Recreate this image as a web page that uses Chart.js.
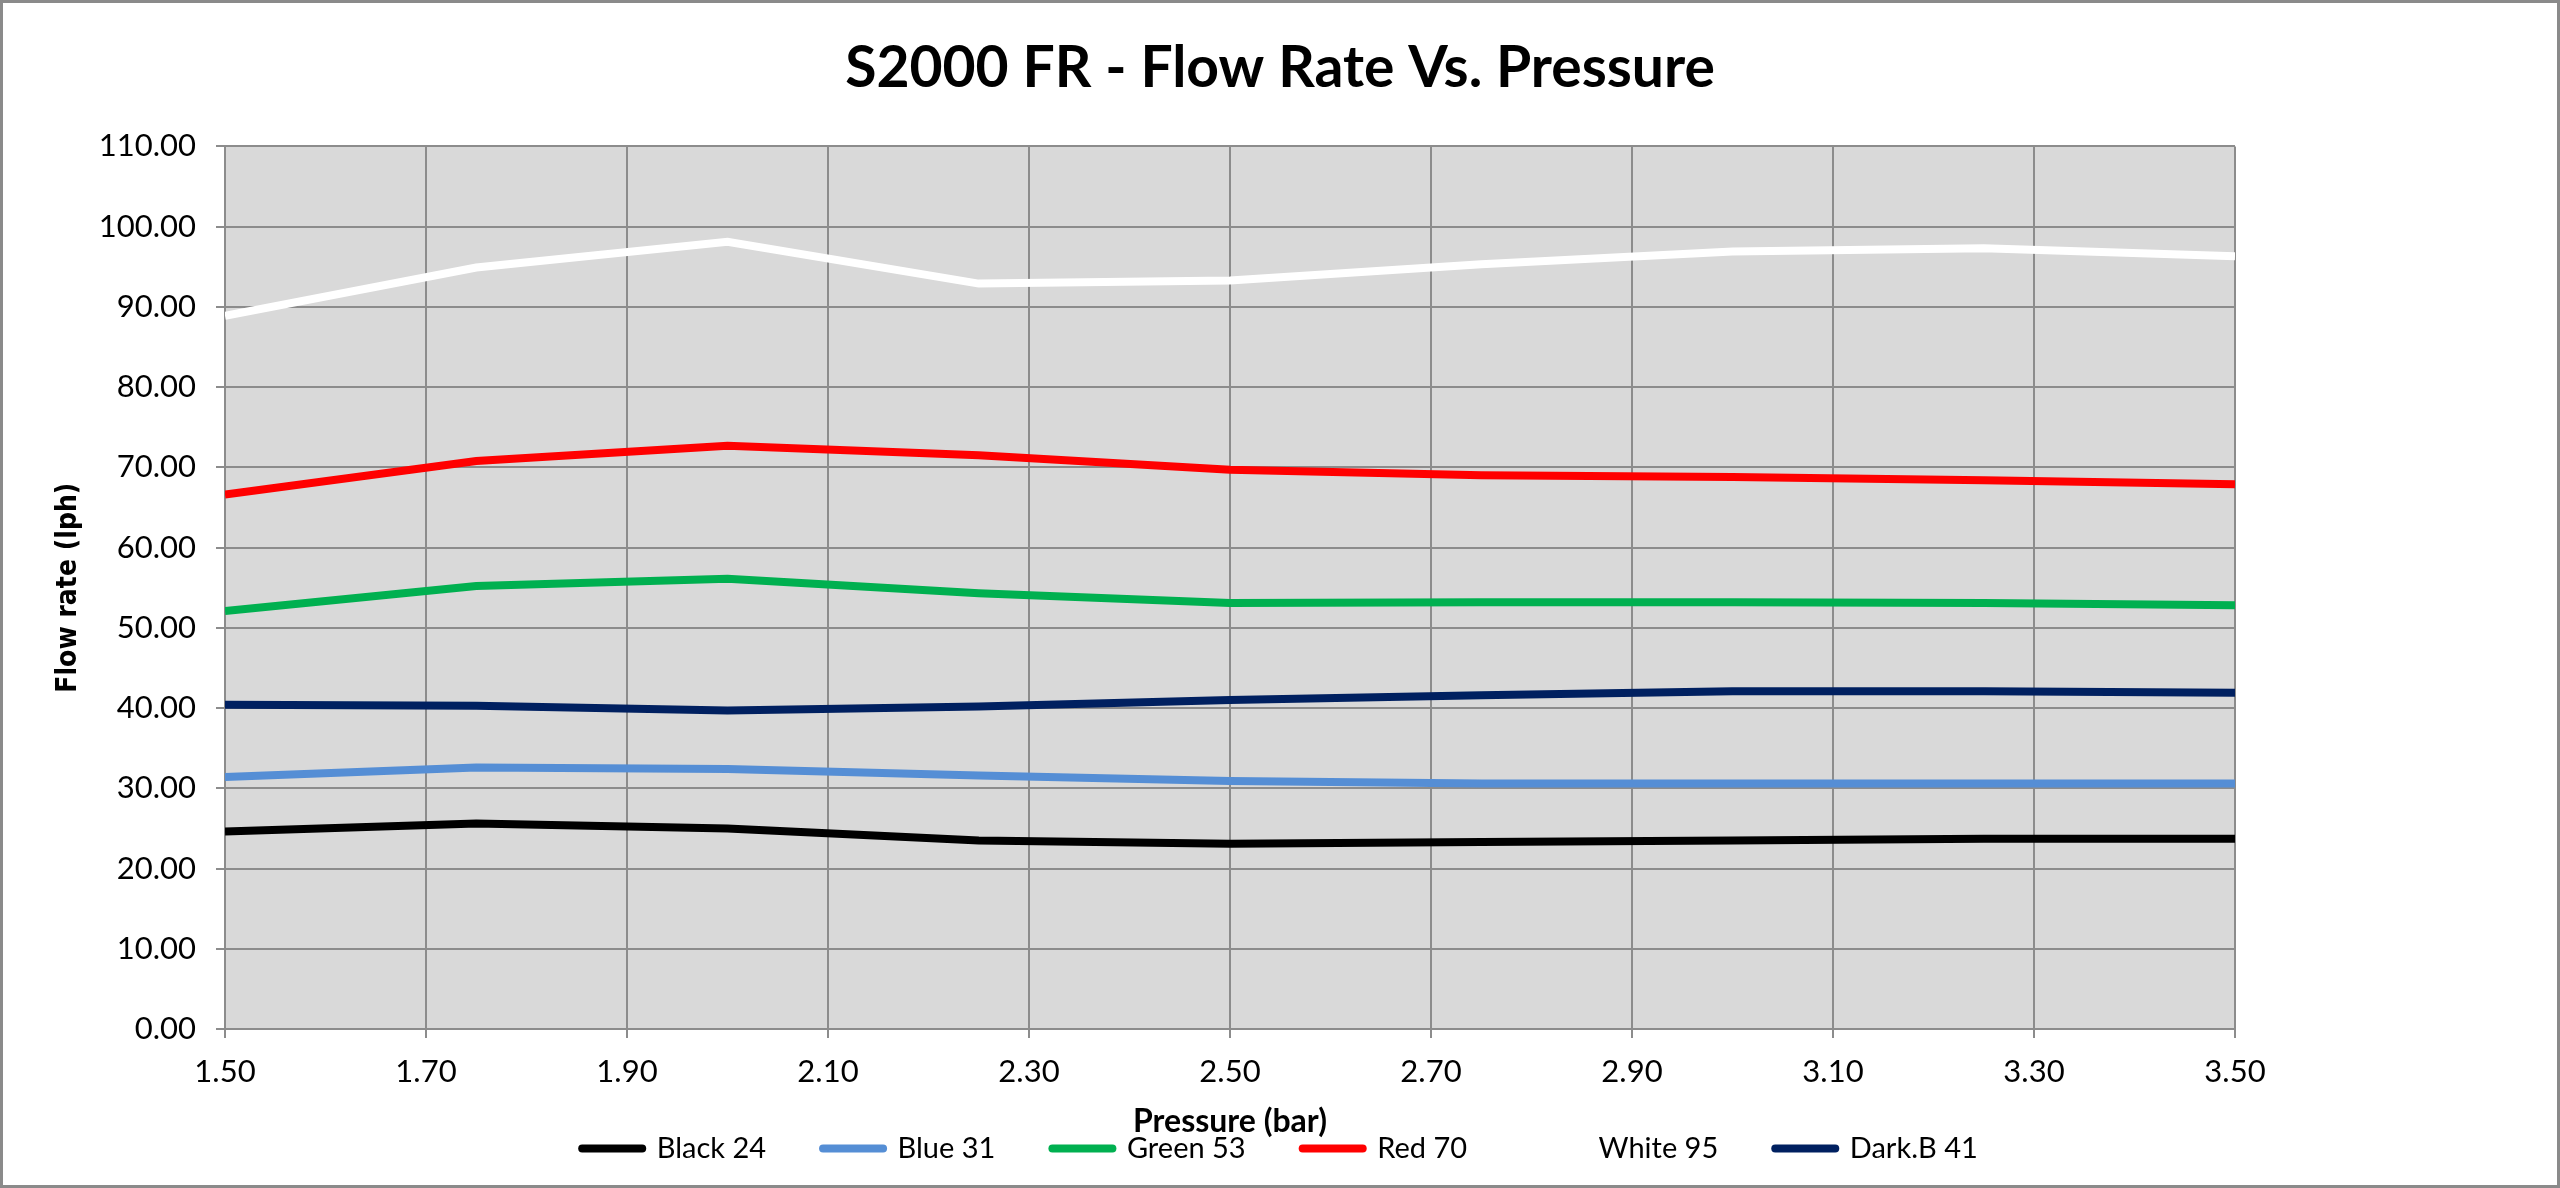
<!DOCTYPE html>
<html>
<head>
<meta charset="utf-8">
<title>S2000 FR - Flow Rate Vs. Pressure</title>
<script src="https://cdn.jsdelivr.net/npm/chart.js@4.4.1/dist/chart.umd.min.js"></script>
<style>
  html, body { margin: 0; padding: 0; background: #ffffff; }
  canvas { display: block; }
</style>
</head>
<body>
<canvas id="flow_chart" width="2560" height="1188"></canvas>
<script>
// pressure (bar) where each nozzle was measured
const pressures = [1.50, 1.75, 2.00, 2.25, 2.50, 2.75, 3.00, 3.25, 3.50];

// flow rate (lph) per nozzle
const black_24 = [24.6, 25.6, 25.0, 23.5, 23.1, 23.3, 23.5, 23.7, 23.7];
const blue_31 = [31.4, 32.6, 32.4, 31.6, 30.9, 30.6, 30.6, 30.6, 30.6];
const green_53 = [52.1, 55.2, 56.1, 54.3, 53.1, 53.2, 53.2, 53.1, 52.8];
const red_70 = [66.6, 70.8, 72.7, 71.5, 69.7, 69.0, 68.8, 68.4, 67.9];
const white_95 = [88.9, 94.9, 98.1, 92.9, 93.3, 95.3, 96.9, 97.3, 96.3];
const darkb_41 = [40.4, 40.3, 39.7, 40.2, 41.0, 41.6, 42.1, 42.1, 41.9];

const series_names = ['Black 24', 'Blue 31', 'Green 53', 'Red 70', 'White 95', 'Dark.B 41'];
const series_values = [black_24, blue_31, green_53, red_70, white_95, darkb_41];
const series_colors = ['#000000', '#558ed5', '#00b050', '#ff0000', '#ffffff', '#002060'];

const main_font = "Lato, 'Open Sans', sans-serif";
const grid_color = '#8c8c8c';

function to_points(values) {
    return values.map((v, i) => ({ x: pressures[i], y: v }));
}

const datasets = series_names.map((name, i) => ({
    label: name,
    data: to_points(series_values[i]),
    borderColor: series_colors[i],
    backgroundColor: series_colors[i],
    borderWidth: 8,
    tension: 0,
    pointRadius: 0,
    pointHoverRadius: 0,
    pointBorderWidth: 8,
    pointBorderColor: series_colors[i]
}));

// grey plot area like the spreadsheet chart
const plot_background = {
    id: 'plot_background',
    beforeDraw(chart) {
        const { ctx, chartArea } = chart;
        ctx.save();
        ctx.fillStyle = '#d9d9d9';
        ctx.fillRect(chartArea.left, chartArea.top, chartArea.width, chartArea.height);
        ctx.restore();
    }
};

// thin frame round the whole chart
const outer_frame = {
    id: 'outer_frame',
    afterDraw(chart) {
        const ctx = chart.ctx;
        ctx.save();
        ctx.strokeStyle = '#8a8a8a';
        ctx.lineWidth = 3;
        ctx.strokeRect(1.5, 1.5, chart.width - 3, chart.height - 3);
        ctx.restore();
    }
};

new Chart(document.getElementById('flow_chart'), {
    type: 'line',
    data: { datasets: datasets },
    plugins: [plot_background, outer_frame],
    options: {
        responsive: false,
        animation: false,
        events: [],
        layout: { padding: { top: 0, left: 0, right: 0, bottom: 15 } },
        plugins: {
            title: {
                display: true,
                text: 'S2000 FR - Flow Rate Vs. Pressure',
                color: '#000000',
                font: { family: main_font, size: 57, weight: 'bold', lineHeight: 1.2 },
                padding: { top: 34, bottom: 44 }
            },
            legend: {
                position: 'bottom',
                // empty title with negative padding pulls the legend row up under the axis title
                title: {
                    display: true,
                    text: '',
                    font: { size: 10, lineHeight: 1 },
                    padding: { top: 0, bottom: -24 }
                },
                labels: {
                    usePointStyle: true,
                    pointStyle: 'line',
                    pointStyleWidth: 60,
                    padding: 57,
                    color: '#000000',
                    font: { family: main_font, size: 29 },
                    generateLabels(chart) {
                        const items = Chart.defaults.plugins.legend.labels.generateLabels(chart);
                        return items.map(item => ({
                            ...item,
                            lineCap: 'round',
                            lineWidth: 8,
                            strokeStyle: series_colors[item.datasetIndex]
                        }));
                    }
                }
            },
            tooltip: { enabled: false }
        },
        scales: {
            x: {
                type: 'linear',
                min: 1.5,
                max: 3.5,
                ticks: {
                    stepSize: 0.2,
                    autoSkip: false,
                    maxRotation: 0,
                    padding: 15,
                    color: '#000000',
                    font: { family: main_font, size: 31 },
                    callback: v => v.toFixed(2)
                },
                grid: { color: grid_color, lineWidth: 2, tickLength: 9 },
                border: { color: grid_color, width: 2 },
                title: {
                    display: true,
                    text: 'Pressure (bar)',
                    color: '#000000',
                    font: { family: main_font, size: 32, weight: 'bold', lineHeight: 1.2 },
                    padding: { top: 0, bottom: -50 }
                },
                afterFit(scale) { scale.height = 62; }
            },
            y: {
                min: 0,
                max: 110,
                ticks: {
                    stepSize: 10,
                    padding: 20,
                    color: '#000000',
                    font: { family: main_font, size: 31 },
                    callback: v => v.toFixed(2)
                },
                grid: { color: grid_color, lineWidth: 2, tickLength: 9 },
                border: { color: grid_color, width: 2 },
                title: {
                    display: true,
                    text: 'Flow rate (lph)',
                    color: '#000000',
                    font: { family: "'DejaVu Sans Condensed', 'DejaVu Sans', sans-serif", size: 28, weight: 'bold', lineHeight: 1.2 },
                    padding: { top: 52, bottom: 0 }
                },
                afterFit(scale) { scale.width = 225; }
            },
            // empty right margin so the title sits in the middle of the page
            y_margin: {
                type: 'linear',
                position: 'right',
                ticks: { display: false },
                grid: { display: false },
                border: { display: false },
                afterFit(scale) { scale.width = 325; }
            }
        }
    }
});
</script>
</body>
</html>
